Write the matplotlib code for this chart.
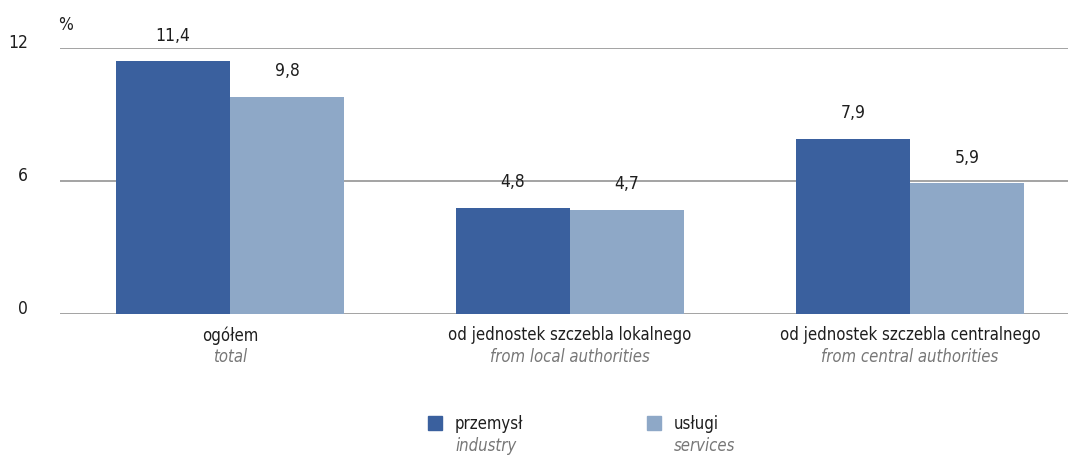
import numpy as np
import matplotlib.pyplot as plt
from matplotlib.patches import Rectangle
from matplotlib.transforms import ScaledTranslation

plt.rcParams['font.family'] = ['DejaVu Sans']
plt.rcParams['font.stretch'] = 'condensed'

categories_pl = ["ogółem", "od jednostek szczebla lokalnego", "od jednostek szczebla centralnego"]
categories_en = ["total", "from local authorities", "from central authorities"]
industry = [11.4, 4.8, 7.9]
services = [9.8, 4.7, 5.9]
y_ticks = [0, 6, 12]

dark = "#3a609e"
light = "#8ea8c7"
grey_text = "#777777"
fs = 12

fig = plt.figure(figsize=(10.68, 4.58), dpi=100)
ax = fig.add_axes([60 / 1068, 1 - 314 / 458, 1008 / 1068, 266 / 458])

x = np.arange(len(categories_pl))
w = 0.335
b1 = ax.bar(x - w / 2, industry, w, color=dark, zorder=3)
b2 = ax.bar(x + w / 2, services, w, color=light, zorder=3)

for bars, vals in ((b1, industry), (b2, services)):
    for rect, v in zip(bars, vals):
        ax.text(rect.get_x() + rect.get_width() / 2, v + 0.75, f"{v:.1f}".replace(".", ","),
                ha="center", va="bottom", fontsize=fs + 0.5, color="#1e1e1e")

ax.set_xlim(-0.5, 2.465)
ax.set_ylim(0, 12)
for yv in y_ticks:
    ax.axhline(yv, color="#9c9c9c", lw=1.3, zorder=1)
ax.set_yticks(y_ticks)
ax.set_yticklabels([str(t) for t in y_ticks], fontsize=fs + 0.5, color="#1e1e1e", va="center")
ax.tick_params(axis="y", length=0, pad=23)
# lift tick labels slightly above their grid lines
for lbl in ax.get_yticklabels():
    lbl.set_transform(lbl.get_transform() + ScaledTranslation(0, 3.5 / 72, fig.dpi_scale_trans))
ax.set_xticks([])
for s in ax.spines.values():
    s.set_visible(False)

ax.text(-0.506, 12.65, "%", fontsize=fs + 0.5, color="#1e1e1e", ha="left", va="bottom")

for xi, pl, en in zip(x, categories_pl, categories_en):
    ax.text(xi, -0.55, pl, ha="center", va="top", fontsize=fs, color="#1e1e1e")
    ax.text(xi, -1.55, en, ha="center", va="top", fontsize=fs, color=grey_text, style="italic")

# legend drawn by hand
for lx, col, pl, en in ((428, dark, "przemysł", "industry"), (647, light, "usługi", "services")):
    fig.patches.append(Rectangle((lx / 1068, 1 - 430 / 458), 14 / 1068, 14 / 458,
                                 transform=fig.transFigure, color=col))
    fig.text((lx + 27) / 1068, 1 - 424 / 458, pl, fontsize=fs, color="#1e1e1e", va="center")
    fig.text((lx + 27) / 1068, 1 - 446 / 458, en, fontsize=fs, color=grey_text, va="center",
             style="italic")

fig.savefig("out.png", dpi=100)
